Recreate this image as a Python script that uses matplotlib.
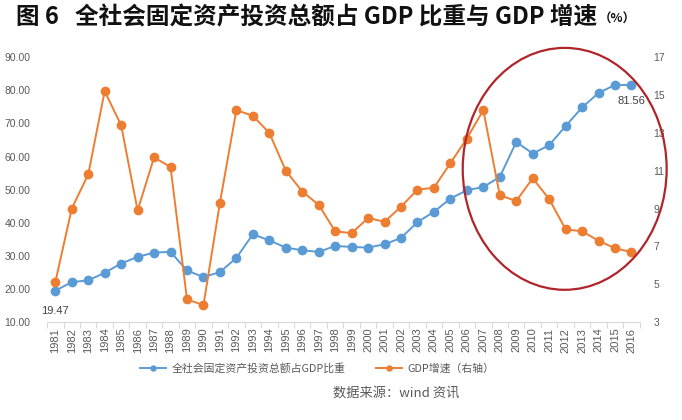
import numpy as np
import matplotlib
matplotlib.use('Agg')
import matplotlib.pyplot as plt
from matplotlib.patches import Ellipse

plt.rcParams['font.family'] = ['Noto Sans CJK SC', 'DejaVu Sans']

# 数据 -------------------------------------------------------------
years = list(range(1981, 2017))
# 全社会固定资产投资总额占GDP比重 (%)，左轴
inv_ratio = [19.47, 22.1, 22.6, 24.9, 27.7, 29.7, 31.0, 31.2, 25.6, 23.6,
             25.1, 29.4, 36.5, 34.7, 32.5, 31.7, 31.2, 33.0, 32.7, 32.5,
             33.5, 35.4, 40.2, 43.3, 47.3, 49.8, 50.8, 53.8, 64.4, 60.9,
             63.4, 69.2, 74.8, 79.2, 81.6, 81.56]
# GDP增速 (%)，右轴
gdp_growth = [5.1, 9.0, 10.8, 15.2, 13.4, 8.9, 11.7, 11.2, 4.2, 3.9,
              9.3, 14.2, 13.9, 13.0, 11.0, 9.9, 9.2, 7.8, 7.7, 8.5,
              8.3, 9.1, 10.0, 10.1, 11.4, 12.7, 14.2, 9.7, 9.4, 10.6,
              9.5, 7.9, 7.8, 7.3, 6.9, 6.7]
left_ticks = [10, 20, 30, 40, 50, 60, 70, 80, 90]
right_ticks = [3, 5, 7, 9, 11, 13, 15, 17]

blue = '#5b9bd5'
orange = '#ed7d31'
txt = '#595959'
lat = ['Liberation Sans', 'DejaVu Sans']

fig = plt.figure(figsize=(6.82, 4.2), dpi=100)
ax = fig.add_axes([0.069, 0.233, 0.869, 0.631])
ax2 = ax.twinx()

x = np.arange(len(years))
l1, = ax.plot(x, inv_ratio, color=blue, lw=1.4, marker='o', ms=6, zorder=3)
l2, = ax2.plot(x, gdp_growth, color=orange, lw=1.4, marker='o', ms=6, zorder=3)

ax.set_xlim(-0.5, len(years) - 0.5)
ax.set_ylim(10, 90)
ax2.set_ylim(3, 17)
ax.set_yticks(left_ticks)
ax.set_yticklabels(['%.2f' % v for v in left_ticks], family=lat, fontsize=7.5, color=txt)
ax2.set_yticks(right_ticks)
ax2.set_yticklabels([str(v) for v in right_ticks], family=lat, fontsize=7.5, color=txt)
ax.tick_params(axis='y', length=0, pad=12)
ax2.tick_params(axis='y', length=0, pad=10)

ax.set_xticks(x)
ax.set_xticklabels([str(y) for y in years], rotation=90, family=lat, fontsize=8, color=txt)
ax.set_xticks(np.arange(-0.5, len(years)), minor=True)
ax.tick_params(axis='x', which='major', length=0, pad=4)
ax.tick_params(axis='x', which='minor', length=4, color='#d9d9d9', width=0.8)

for a in (ax, ax2):
    for s in ('top', 'left', 'right', 'bottom'):
        a.spines[s].set_visible(False)
ax.spines['bottom'].set_visible(True)
ax.spines['bottom'].set_color('#d9d9d9')

# 数据标签
ax.annotate('%.2f' % inv_ratio[0], (x[0], inv_ratio[0]), xytext=(0, -11),
            textcoords='offset points', ha='center', va='top',
            family=lat, fontsize=8, color='#404040')
ax.annotate('%.2f' % inv_ratio[-1], (x[-1], inv_ratio[-1]), xytext=(0, -8),
            textcoords='offset points', ha='center', va='top',
            family=lat, fontsize=8, color='#404040')

# 标题
t = fig.text(0.024, 0.958, '图 6   全社会固定资产投资总额占 GDP 比重与 GDP 增速',
             fontsize=17, fontweight='bold', va='center', ha='left', color='#111111')
fig.canvas.draw()
bb = t.get_window_extent().transformed(fig.transFigure.inverted())
fig.text(bb.x1 + 0.002, 0.953, '（%）', fontsize=9, fontweight='bold',
         va='center', ha='left', color='#111111')

# 图例
fig.legend([l1, l2], ['全社会固定资产投资总额占GDP比重', 'GDP增速（右轴）'],
           loc='center', bbox_to_anchor=(0.465, 0.124), ncol=2, frameon=False,
           fontsize=7.8, handlelength=2.4, columnspacing=2.8, handletextpad=0.5,
           markerscale=0.6, labelcolor=txt)

fig.text(0.488, 0.064, '数据来源：wind 资讯', fontsize=9.5, color=txt,
         va='center', ha='left', style='italic')

# 红色圆圈
ell = Ellipse((0.828, 0.598), 0.299, 0.576, transform=fig.transFigure,
              fill=False, edgecolor='#b0252b', lw=1.6, zorder=10)
fig.patches.append(ell)

fig.savefig('out.png', dpi=100)
